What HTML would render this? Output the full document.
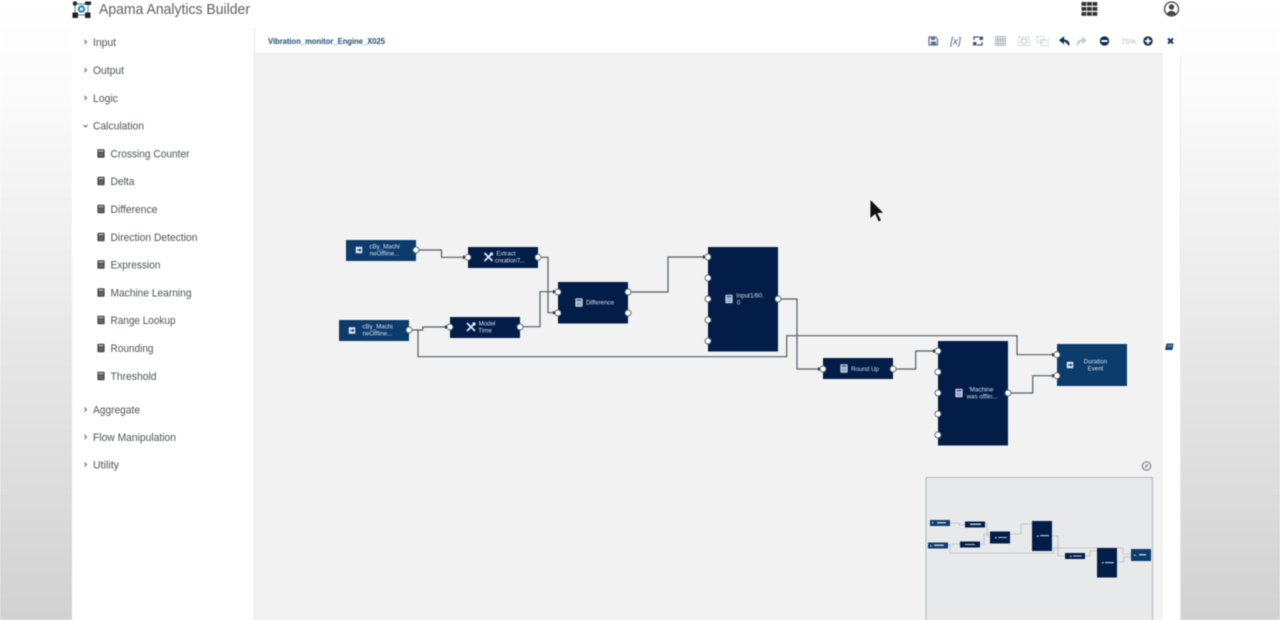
<!DOCTYPE html>
<html>
<head>
<meta charset="utf-8">
<style>
html,body{margin:0;padding:0;width:1280px;height:620px;overflow:hidden;background:#fff}
svg{display:block;position:absolute;left:0;top:0;filter:blur(.5px)}
text{font-family:"Liberation Sans",sans-serif}
.s{font-size:11px;fill:#4f5458}
.n{font-size:6.2px;fill:#d3deee;text-anchor:middle}
.p{fill:#fff;stroke:#5a6775;stroke-width:.9}
.c{fill:none;stroke:#555c64;stroke-width:1.2}
.a{fill:#2b333d}
</style>
</head>
<body>
<svg width="1280" height="620" viewBox="0 0 1280 620" xmlns="http://www.w3.org/2000/svg">
<defs>
<linearGradient id="bg" x1="0" y1="0" x2="0" y2="1">
<stop offset="0" stop-color="#fff"/><stop offset=".15" stop-color="#fbfbfb"/><stop offset="1" stop-color="#d2d2d2"/>
</linearGradient>
<g id="calc"><rect x="-3.6" y="-4.2" width="7.2" height="8.4" rx=".8" fill="currentColor"/><rect x="-2.4" y="-3.1" width="4.8" height="1.5" fill="#fff" opacity=".6"/><rect x="-2.4" y="-.6" width="4.8" height="3.7" fill="#fff" opacity=".18"/></g>
<g id="calcn"><rect x="-3.6" y="-4.2" width="7.2" height="8.4" rx=".8" fill="#c9d6e8"/><rect x="-2.4" y="-3.1" width="4.8" height="1.5" fill="#03204a" opacity=".7"/><rect x="-2.4" y="-.6" width="4.8" height="3.7" fill="#03204a" opacity=".25"/></g>
<g id="tool"><path d="M-4 -4 L4 4 M4 -4 L-4 4" stroke="#d9e2ee" stroke-width="1.9" fill="none"/><circle cx="3" cy="-3" r="1.7" fill="#d9e2ee"/></g>
<g id="inp"><rect x="-3.2" y="-3.2" width="6.4" height="6.4" fill="#e4ebf3"/><path d="M-2 0H1M.2 -1.4L1.8 0L.2 1.4" stroke="#0d3d6e" stroke-width=".9" fill="none"/></g>
<path id="chev" d="M-1 -2L1 0L-1 2" fill="none" stroke="#555" stroke-width=".9"/>
</defs>

<rect width="1280" height="620" fill="url(#bg)"/>
<rect x="72" y="0" width="1109" height="620" fill="#fff"/>
<rect x="254" y="54" width="909" height="566" fill="#f2f2f2"/>
<rect x="254" y="28" width="1" height="592" fill="#e6e6e6"/>
<rect x="254" y="53" width="909" height="1" fill="#e9e9e9"/>
<rect x="1180" y="56" width="1" height="564" fill="#e8e8e8"/>

<!-- logo -->
<g>
<path d="M75 4V14M75 4H88M88 4V14M75 15H88" stroke="#5f7f95" stroke-width="1" fill="none"/>
<circle cx="75" cy="3.5" r="2.300" fill="#2c2c2c"/><rect x="85" y="1.500" width="6" height="3.400" fill="#222"/>
<rect x="72.500" y="12.500" width="5.500" height="5.500" fill="#222"/><rect x="85" y="12.500" width="5.500" height="5.500" fill="#222"/>
<circle cx="81.500" cy="9" r="3.800" fill="#2b8cc4"/><circle cx="81.500" cy="9" r="1.500" fill="#fff"/>
</g>
<text x="99" y="14" font-size="15" fill="#5f5f5f" textLength="151" lengthAdjust="spacingAndGlyphs">Apama Analytics Builder</text>

<!-- sidebar -->
<g class="s">
<text class="s" x="93" y="46" textLength="23" lengthAdjust="spacingAndGlyphs">Input</text>
<text class="s" x="93" y="74" textLength="31" lengthAdjust="spacingAndGlyphs">Output</text>
<text class="s" x="93" y="102" textLength="25" lengthAdjust="spacingAndGlyphs">Logic</text>
<text class="s" x="93" y="129.500" textLength="51" lengthAdjust="spacingAndGlyphs">Calculation</text>
<text class="s" x="110.500" y="157.500" textLength="79" lengthAdjust="spacingAndGlyphs">Crossing Counter</text>
<text class="s" x="110.500" y="185" textLength="24" lengthAdjust="spacingAndGlyphs">Delta</text>
<text class="s" x="110.500" y="213" textLength="47" lengthAdjust="spacingAndGlyphs">Difference</text>
<text class="s" x="110.500" y="241" textLength="87" lengthAdjust="spacingAndGlyphs">Direction Detection</text>
<text class="s" x="110.500" y="268.500" textLength="50" lengthAdjust="spacingAndGlyphs">Expression</text>
<text class="s" x="110.500" y="296.500" textLength="81" lengthAdjust="spacingAndGlyphs">Machine Learning</text>
<text class="s" x="110.500" y="324" textLength="65" lengthAdjust="spacingAndGlyphs">Range Lookup</text>
<text class="s" x="110.500" y="352" textLength="43" lengthAdjust="spacingAndGlyphs">Rounding</text>
<text class="s" x="110.500" y="380" textLength="46" lengthAdjust="spacingAndGlyphs">Threshold</text>
<text class="s" x="93" y="413.500" textLength="47" lengthAdjust="spacingAndGlyphs">Aggregate</text>
<text class="s" x="93" y="441" textLength="83" lengthAdjust="spacingAndGlyphs">Flow Manipulation</text>
<text class="s" x="93" y="468.500" textLength="26" lengthAdjust="spacingAndGlyphs">Utility</text>
</g>
<use href="#chev" x="85.500" y="42"/><use href="#chev" x="85.500" y="70"/><use href="#chev" x="85.500" y="98"/>
<path d="M83.500 125L85.500 127L87.500 125" fill="none" stroke="#555" stroke-width=".9"/>
<use href="#chev" x="85.500" y="409.500"/><use href="#chev" x="85.500" y="437"/><use href="#chev" x="85.500" y="464.500"/>
<g color="#444">
<use href="#calc" x="101" y="153.500"/><use href="#calc" x="101" y="181"/><use href="#calc" x="101" y="209"/><use href="#calc" x="101" y="237"/><use href="#calc" x="101" y="264.500"/><use href="#calc" x="101" y="292.500"/><use href="#calc" x="101" y="320"/><use href="#calc" x="101" y="348"/><use href="#calc" x="101" y="376"/>
</g>

<!-- header right -->
<g fill="#333"><rect x="1081.500" y="2" width="4.800" height="3.800"/><rect x="1087" y="2" width="4.800" height="3.800"/><rect x="1092.500" y="2" width="4.800" height="3.800"/><rect x="1081.500" y="7" width="4.800" height="3.800"/><rect x="1087" y="7" width="4.800" height="3.800"/><rect x="1092.500" y="7" width="4.800" height="3.800"/><rect x="1081.500" y="12" width="4.800" height="3.800"/><rect x="1087" y="12" width="4.800" height="3.800"/><rect x="1092.500" y="12" width="4.800" height="3.800"/></g>
<circle cx="1171.500" cy="9" r="7" fill="#fff" stroke="#444" stroke-width="1.300"/><circle cx="1171.500" cy="7" r="2.700" fill="#444"/><path d="M1166.500 14Q1171.500 7.500 1176.500 14Q1171.500 16.500 1166.500 14" fill="#444"/>

<!-- toolbar -->
<text x="268" y="44" font-size="8" font-weight="bold" fill="#1f4a70" textLength="117" lengthAdjust="spacingAndGlyphs">Vibration_monitor_Engine_X025</text>
<path d="M929 37h6.500l2 2v6h-8.500z" fill="none" stroke="#5c7288" stroke-width="1.200"/><rect x="931" y="37.500" width="4" height="2.500" fill="#5c7288"/><rect x="931" y="41.500" width="5" height="3" fill="#5c7288"/>
<text x="955.500" y="44.500" font-size="10" fill="#4a5f75" font-style="italic" text-anchor="middle">[x]</text>
<path d="M974 40v-3h5M982 42v3h-5" fill="none" stroke="#44596f" stroke-width="1.300"/><rect x="973" y="42" width="3.500" height="3.500" fill="#44596f"/><rect x="979.500" y="36.500" width="3.500" height="3.500" fill="#44596f"/>
<g stroke="#9aa3ab" stroke-width=".7" fill="none"><rect x="995.500" y="36.500" width="10" height="9"/><path d="M998 36.500v9M1000.500 36.500v9M1003 36.500v9M995.500 39h10M995.500 41h10M995.500 43.500h10"/></g>
<g stroke="#c2c6ca" stroke-width=".9" fill="none"><rect x="1019" y="37" width="10" height="8.500" stroke-dasharray="2 1"/><rect x="1021.500" y="39" width="5" height="4.500"/><rect x="1037" y="36.500" width="7" height="6" stroke-dasharray="2 1"/><rect x="1041" y="40" width="7" height="6" stroke-dasharray="2 1"/></g>
<path d="M1069 45.500c0-4-2-5.500-6-5.500M1063.500 37.500L1060 40.200L1063.500 43Z" fill="#0f2f52" stroke="#0f2f52" stroke-width="1.300"/>
<path d="M1077 45.500c0-4 2-5.500 6-5.500M1082.500 37.500L1086 40.200L1082.500 43Z" fill="#c9cdd1" stroke="#c9cdd1" stroke-width="1.300"/>
<circle cx="1104.500" cy="41" r="4.700" fill="#0f2f52"/><rect x="1101.500" y="40" width="6" height="2" fill="#fff"/>
<text x="1128.500" y="44" font-size="7.500" fill="#b5b9bd" text-anchor="middle">75%</text>
<circle cx="1148" cy="41" r="4.700" fill="#0f2f52"/><path d="M1145 41h6M1148 38v6" stroke="#fff" stroke-width="1.800"/>
<path d="M1168 38.500L1173 43.500M1173 38.500L1168 43.500" stroke="#0f3763" stroke-width="2"/>

<!-- connectors -->
<g class="c">
<path d="M416 250H441.500V257.300H468"/>
<path d="M538 257.300H548V312.700H558"/>
<path d="M520 326.700H540V291.700H558"/>
<path d="M409 330H422.700V327H450"/>
<path d="M418 330V356.700H786.700V335.700H1017V354.700H1057"/>
<path d="M628 292H668V257H708"/>
<path d="M778 299H797V369H823"/>
<path d="M893 369H915.700V351H938"/>
<path d="M1008 393H1032.700V375.700H1057"/>
</g>
<g class="a">
<path d="M467 257.300l-4 -2v4z"/><path d="M557 312.700l-4 -2v4z"/><path d="M557 291.700l-4 -2v4z"/><path d="M449 327l-4 -2v4z"/><path d="M707 257l-4 -2v4z"/><path d="M822 369l-4 -2v4z"/><path d="M937 351l-4 -2v4z"/><path d="M1056 354.700l-4 -2v4z"/><path d="M1056 375.700l-4 -2v4z"/>
</g>

<!-- nodes -->
<rect x="346" y="240" width="70" height="21" fill="#0c3c6b"/>
<rect x="339" y="320" width="70" height="21" fill="#0c3c6b"/>
<rect x="468" y="247" width="70" height="21" fill="#021d47"/>
<rect x="450" y="317" width="70" height="21" fill="#021d47"/>
<rect x="558" y="282" width="70" height="41.500" fill="#021d47"/>
<rect x="708" y="247" width="70" height="104.500" fill="#021d47"/>
<rect x="823" y="358" width="70" height="21" fill="#021d47"/>
<rect x="938" y="341" width="70" height="104.500" fill="#021d47"/>
<rect x="1057" y="344" width="70" height="42" fill="#0c3c6b"/>

<use href="#inp" x="359" y="250"/><use href="#inp" x="352" y="330.500"/><use href="#inp" x="1070" y="365"/>
<use href="#tool" x="488.500" y="257"/><use href="#tool" x="471" y="327"/>
<use href="#calcn" x="579" y="302.500"/><use href="#calcn" x="729" y="299"/><use href="#calcn" x="844" y="368.500"/><use href="#calcn" x="959" y="393"/>

<text class="n" x="384.500" y="248.500">cBy_Machi</text><text class="n" x="384.500" y="255.500">neOffline...</text>
<text class="n" x="377.500" y="328.500">cBy_Machi</text><text class="n" x="377.500" y="335.500">neOffline...</text>
<text class="n" x="506" y="255.500">Extract</text><text class="n" x="510" y="262.500">creationT...</text>
<text class="n" x="487" y="325.500">Model</text><text class="n" x="485" y="332.500">Time</text>
<text class="n" x="600" y="304.500">Difference</text>
<text class="n" x="750" y="297.500">Input1/60.</text><text class="n" x="738.500" y="304.500">0</text>
<text class="n" x="865" y="371">Round Up</text>
<text class="n" x="981" y="391.500">'Machine</text><text class="n" x="982" y="398.500">was offlin...</text>
<text class="n" x="1095.500" y="363.500">Duration</text><text class="n" x="1095.500" y="370.500">Event</text>

<!-- ports -->
<g class="p">
<circle cx="416" cy="250" r="3"/><circle cx="409" cy="330" r="3"/>
<circle cx="468" cy="257.300" r="3"/><circle cx="538" cy="257.300" r="3"/>
<circle cx="450" cy="327" r="3"/><circle cx="520" cy="327" r="3"/>
<circle cx="558" cy="292" r="3"/><circle cx="558" cy="313" r="3"/><circle cx="628" cy="292" r="3"/><circle cx="628" cy="313" r="3"/>
<circle cx="708" cy="257" r="3"/><circle cx="708" cy="278" r="3"/><circle cx="708" cy="299" r="3"/><circle cx="708" cy="320" r="3"/><circle cx="708" cy="341" r="3"/><circle cx="778" cy="299" r="3"/>
<circle cx="823" cy="369" r="3"/><circle cx="893" cy="369" r="3"/>
<circle cx="938" cy="351" r="3"/><circle cx="938" cy="372" r="3"/><circle cx="938" cy="393" r="3"/><circle cx="938" cy="414" r="3"/><circle cx="938" cy="435" r="3"/><circle cx="1008" cy="393" r="3"/>
<circle cx="1057" cy="354.700" r="3"/><circle cx="1057" cy="375.700" r="3"/>
</g>

<!-- book icon -->
<path d="M1166.500 343.500h7l-1 6.500h-7.500z" fill="#0d4274"/><path d="M1167.500 344.500h5l-.5 3h-5z" fill="#3d78aa"/>

<!-- cursor -->
<path d="M870 199L870 219L875 214.500L878.500 222L881.500 220.500L878 213.500L884 213Z" fill="#111" stroke="#fff" stroke-width=".8"/>

<!-- minimap toggle -->
<circle cx="1146.500" cy="466" r="4.200" fill="none" stroke="#808488" stroke-width="1.200"/><path d="M1148.500 464L1145.800 465.300L1144.500 468L1147.200 466.700Z" fill="#808488"/>

<!-- minimap -->
<rect x="926" y="477.500" width="226.500" height="150" fill="#e8e9eb" stroke="#b4b6b8" stroke-width="1"/>
<g fill="none" stroke="#c3c6ca" stroke-width="1.100">
<path d="M950 523H959V525H965"/><path d="M984 524H987V536H990"/><path d="M979 544H984V534H990"/><path d="M948 545H953V544H960"/>
<path d="M950 545V553H1054V548H1123V554H1131"/><path d="M1010 534H1021V524H1032"/><path d="M1052 536H1058V556H1065"/><path d="M1084 556H1090V551H1097"/><path d="M1117 562H1124V557H1131"/>
</g>
<rect x="930" y="520" width="20" height="6" fill="#0c3c6b"/>
<rect x="928" y="542.500" width="20" height="6" fill="#0c3c6b"/>
<rect x="965" y="521.500" width="20" height="6" fill="#021d47"/>
<rect x="960" y="541.500" width="20" height="6" fill="#021d47"/>
<rect x="990" y="531.500" width="20" height="12" fill="#021d47"/>
<rect x="1032" y="521" width="20" height="30" fill="#021d47"/>
<rect x="1065" y="553" width="20" height="6" fill="#021d47"/>
<rect x="1097" y="548" width="20" height="29.500" fill="#021d47"/>
<rect x="1131" y="549" width="20" height="12" fill="#0c3c6b"/>
<g fill="#b9c8db">
<rect x="932" y="522" width="1.500" height="1.500"/><rect x="937" y="522" width="9" height="1.500"/>
<rect x="930" y="545" width="1.500" height="1.500"/><rect x="934" y="544.500" width="10" height="1.500"/>
<rect x="970" y="523.500" width="11" height="1.500"/><rect x="965" y="544" width="10" height="1"/>
<rect x="995" y="537" width="1.500" height="1.500"/><rect x="998" y="537" width="9" height="1"/>
<rect x="1037" y="535.500" width="1.500" height="1.500"/><rect x="1040" y="535" width="9" height="1.200"/>
<rect x="1070" y="555.500" width="1.500" height="1.500"/><rect x="1073" y="555.500" width="9" height="1"/>
<rect x="1102" y="562" width="1.500" height="1.500"/><rect x="1105" y="562" width="9" height="1.200"/>
<rect x="1134" y="554.500" width="1.500" height="1.500"/><rect x="1139" y="554" width="7" height="1.500"/>
</g>
</svg>
</body>
</html>
